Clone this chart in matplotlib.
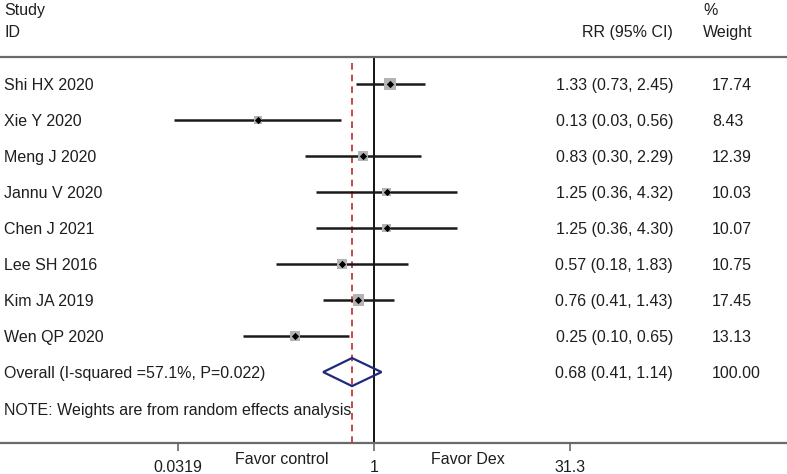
import numpy as np
import matplotlib.pyplot as plt
from matplotlib.patches import Polygon
import matplotlib.transforms as mtransforms

plt.rcParams['font.family'] = ['Liberation Sans', 'DejaVu Sans']

studies = ['Shi HX 2020', 'Xie Y 2020', 'Meng J 2020', 'Jannu V 2020',
           'Chen J 2021', 'Lee SH 2016', 'Kim JA 2019', 'Wen QP 2020']
rr = [1.33, 0.13, 0.83, 1.25, 1.25, 0.57, 0.76, 0.25]
lo = [0.73, 0.03, 0.30, 0.36, 0.36, 0.18, 0.41, 0.10]
hi = [2.45, 0.56, 2.29, 4.32, 4.30, 1.83, 1.43, 0.65]
weight = [17.74, 8.43, 12.39, 10.03, 10.07, 10.75, 17.45, 13.13]

overall_label = 'Overall (I-squared =57.1%, P=0.022)'
overall = [0.68, 0.41, 1.14]
overall_weight = 100.00
note = 'NOTE: Weights are from random effects analysis'
ticks = [0.0319, 1, 31.3]
tick_labels = ['0.0319', '1', '31.3']

W, H = 787, 474
fig = plt.figure(figsize=(W / 100, H / 100), dpi=100)
# axes from separator line (y=57px) to the x axis line (y=443px)
ax = fig.add_axes([0, (H - 443) / H, 1, (443 - 57) / H])
ax.set_xscale('log')
px_per_ln = 57.0
x_one = 374.0
ax.set_xlim(np.exp(-x_one / px_per_ln), np.exp((W - x_one) / px_per_ln))
ax.set_ylim(9.97, -0.75)

txt = '#1e1e1e'
fs = 11.5

for s in ['left', 'right']:
    ax.spines[s].set_visible(False)
for s in ['top', 'bottom']:
    ax.spines[s].set_color('#6a6a6a')
    ax.spines[s].set_linewidth(1.6)
ax.set_yticks([])
ax.set_xticks(ticks)
ax.set_xticklabels(tick_labels, fontsize=fs, color=txt)
ax.xaxis.set_minor_locator(plt.NullLocator())
ax.tick_params(axis='x', length=6, width=1.2, color='#6a6a6a', pad=6)

# reference lines
ax.axvline(1, color='black', lw=1.3)
ax.axvline(overall[0], color='#c0282d', lw=1.2, ls=(0, (4, 3)))

rows = np.arange(len(studies))
ax.hlines(rows, lo, hi, color='#1a1a1a', lw=1.8, zorder=3)
sides = 2.8 * np.sqrt(np.array(weight)) / 1.389
ax.scatter(rr, rows, marker='s', s=sides ** 2, color='#b4b4b4', zorder=4, linewidths=0)
ax.scatter(rr, rows, marker='D', s=14, color='black', zorder=5, linewidths=0)

# overall diamond
yo = len(studies)
dh = 0.39
diamond = Polygon([[overall[1], yo], [overall[0], yo - dh], [overall[2], yo],
                   [overall[0], yo + dh]], closed=True, fill=False,
                  edgecolor='#1f2a7a', lw=1.6, zorder=5)
ax.add_patch(diamond)

# table text
tr = mtransforms.blended_transform_factory(fig.transFigure, ax.transData)
xl = 4 / W
xr = 673 / W
xw = 712 / W
for i, name in enumerate(studies):
    ax.text(xl, i, name, transform=tr, fontsize=fs, color=txt, va='center_baseline')
    ax.text(xr, i, f'{rr[i]:.2f} ({lo[i]:.2f}, {hi[i]:.2f})', transform=tr,
            fontsize=fs, color=txt, va='center_baseline', ha='right')
    ax.text(xw, i, f'{weight[i]:.2f}', transform=tr, fontsize=fs, color=txt,
            va='center_baseline')
ax.text(xl, yo, overall_label, transform=tr, fontsize=fs, color=txt, va='center_baseline')
ax.text(xr, yo, f'{overall[0]:.2f} ({overall[1]:.2f}, {overall[2]:.2f})', transform=tr,
        fontsize=fs, color=txt, va='center_baseline', ha='right')
ax.text(xw, yo, f'{overall_weight:.2f}', transform=tr, fontsize=fs, color=txt,
        va='center_baseline')
ax.text(xl, yo + 1.03, note, transform=tr, fontsize=fs, color=txt, va='center_baseline')

# header
fig.text(xl, 1 - 15 / H, 'Study', fontsize=fs, color=txt)
fig.text(xl, 1 - 37 / H, 'ID', fontsize=fs, color=txt)
fig.text(xr, 1 - 37 / H, 'RR (95% CI)', fontsize=fs, color=txt, ha='right')
fig.text(703 / W, 1 - 15 / H, '%', fontsize=fs, color=txt)
fig.text(703 / W, 1 - 37 / H, 'Weight', fontsize=fs, color=txt)

# favours labels
fig.text(282 / W, 1 - 460 / H, 'Favor control', fontsize=fs, color=txt, ha='center', va='center')
fig.text(468 / W, 1 - 460 / H, 'Favor Dex', fontsize=fs, color=txt, ha='center', va='center')

fig.savefig('out.png', dpi=100)
